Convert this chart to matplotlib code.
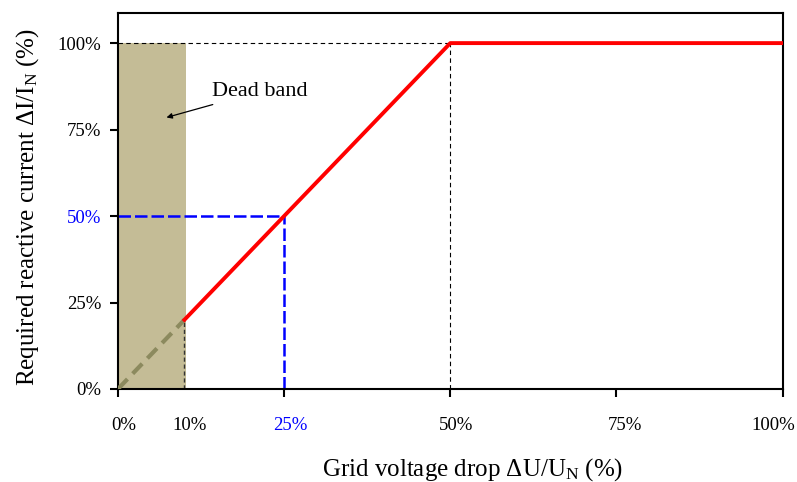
import matplotlib
matplotlib.use('Agg')
import matplotlib.pyplot as plt
from matplotlib.transforms import ScaledTranslation

plt.rcParams['font.family'] = ['Liberation Serif', 'DejaVu Serif']
plt.rcParams['mathtext.fontset'] = 'custom'
plt.rcParams['mathtext.rm'] = 'Liberation Serif'
plt.rcParams['mathtext.it'] = 'Liberation Serif:italic'

# curve: required reactive current vs voltage drop
curve_x = [10, 50, 100]
curve_y = [20, 100, 100]
dead_x = [0, 10]
dead_y = [0, 20]
dead_band = (0, 10)
example_point = (25, 50)
x_ticks = [0, 10, 25, 50, 75, 100]
x_labels = ['0%', '10%', '25%', '50%', '75%', '100%']
y_ticks = [0, 25, 50, 75, 100]
y_labels = ['0%', '25%', '50%', '75%', '100%']

fig = plt.figure(figsize=(7.97, 4.82), dpi=100)
ax = fig.add_axes([0.148, 0.193, 0.834, 0.780])

ax.axvspan(dead_band[0], dead_band[1] + 0.3, ymin=0, ymax=100 / 108.7, color='#c4bc96', lw=0, zorder=1)
ax.plot(dead_x, dead_y, color='#8c8a5e', lw=3, ls=(0, (3.3, 1.8)), zorder=3)
ax.plot(curve_x, curve_y, color='red', lw=2.8, zorder=4)

# guide lines
ax.plot([dead_band[1], dead_band[1]], [0, curve_y[0]], color='#333333', lw=1, ls=(0, (3, 2)), zorder=2)
ax.plot([0, curve_x[1]], [100, 100], color='black', lw=0.8, ls=(0, (4, 3)), zorder=2)
ax.plot([curve_x[1], curve_x[1]], [0, 100], color='black', lw=0.8, ls=(0, (4, 3)), zorder=2)
ax.plot([0, example_point[0]], [example_point[1]] * 2, color='blue', lw=1.8, ls=(0, (5, 1.6)), zorder=2)
ax.plot([example_point[0]] * 2, [0, example_point[1]], color='blue', lw=1.8, ls=(0, (5, 1.6)), zorder=2)

ax.annotate('Dead band', xy=(7.3, 78.5), xytext=(14.1, 86.0), fontsize=16,
            va='center', ha='left',
            arrowprops=dict(arrowstyle='-|>', color='black', lw=0.9, mutation_scale=8,
                            shrinkA=2, shrinkB=0))

ax.set_xlim(0, 100)
ax.set_ylim(0, 108.7)
ax.set_xticks(x_ticks)
ax.set_xticklabels(x_labels)
ax.set_yticks(y_ticks)
ax.set_yticklabels(y_labels)
ax.tick_params(direction='out', length=6, width=1.5, labelsize=13.5, pad=14)
ax.tick_params(axis='y', pad=6)
ax.xaxis.get_major_ticks()[1].tick1line.set_visible(False)
ax.get_xticklabels()[2].set_color('blue')
ax.get_yticklabels()[2].set_color('blue')

# the x labels sit a little right of their ticks, the last one pulled in
shifts = [6, 5, 6, 6, 8, -9]
for lab, dx in zip(ax.get_xticklabels(), shifts):
    lab.set_transform(lab.get_transform() + ScaledTranslation(dx / 100, 0, fig.dpi_scale_trans))

for s in ax.spines.values():
    s.set_linewidth(1.5)

ax.set_xlabel(r'Grid voltage drop $\Delta$U/U$_\mathrm{N}$ (%)', fontsize=18, labelpad=16)
ax.set_ylabel(r'Required reactive current $\Delta$I/I$_\mathrm{N}$ (%)', fontsize=18, labelpad=12)
ax.xaxis.label.set_x(0.534)
ax.yaxis.label.set_y(0.484)

fig.savefig('out.png', dpi=100)
